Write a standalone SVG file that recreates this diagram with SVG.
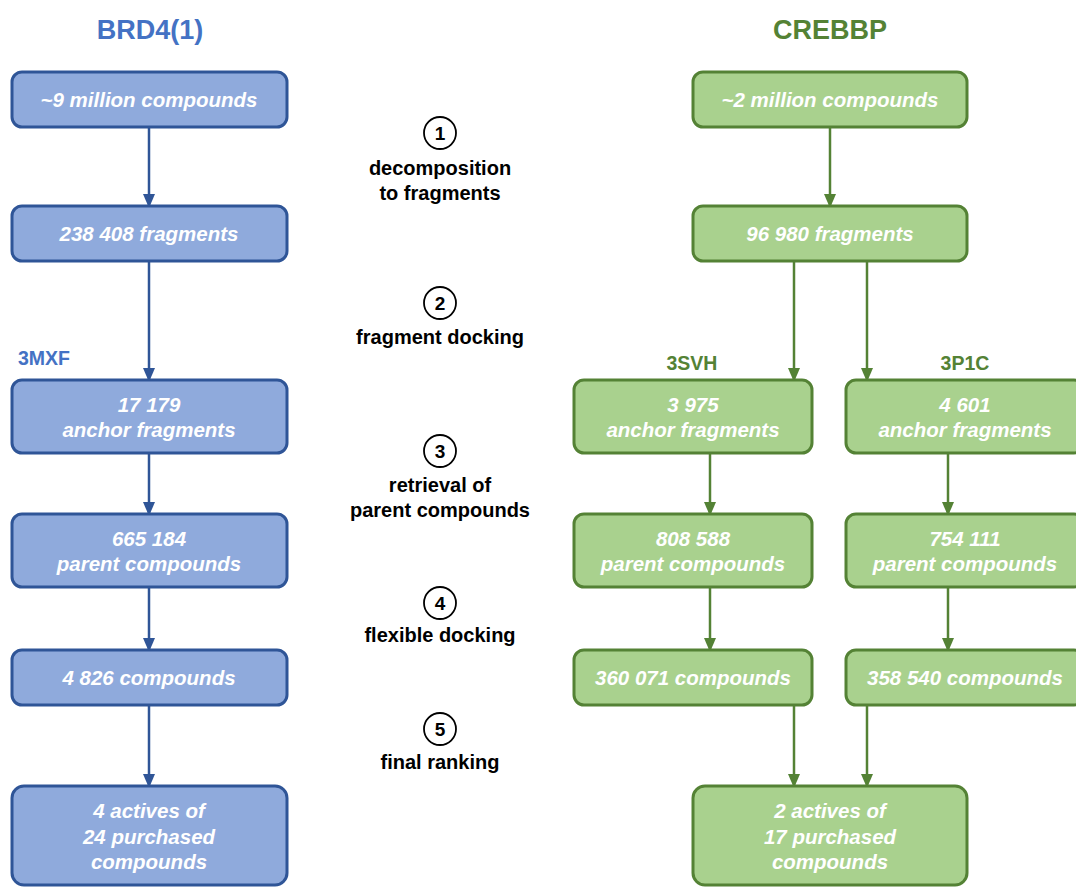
<svg xmlns="http://www.w3.org/2000/svg" width="1076" height="887" viewBox="0 0 1076 887">
<style>
.bb{fill:#8FAADC;stroke:#2F5597;stroke-width:3}
.gb{fill:#A9D18E;stroke:#548235;stroke-width:3}
.bt{font-family:"Liberation Sans",Arial,sans-serif;font-weight:bold;font-style:italic;font-size:20.5px;fill:#fff;text-anchor:middle}
.st{font-family:"Liberation Sans",Arial,sans-serif;font-weight:bold;font-size:20px;fill:#000;text-anchor:middle}
.num{font-family:"Liberation Sans",Arial,sans-serif;font-weight:bold;font-size:19px;fill:#000;text-anchor:middle}
.lb{font-family:"Liberation Sans",Arial,sans-serif;font-weight:bold;font-size:19.5px}
.bl{stroke:#2F5597;stroke-width:2.5;fill:none;marker-end:url(#ab)}
.gl{stroke:#548235;stroke-width:2.5;fill:none;marker-end:url(#ag)}
.circ{fill:#fff;stroke:#000;stroke-width:1.8}
</style>
<defs>
<marker id="ab" viewBox="0 0 12 14" refX="12" refY="6" markerWidth="12" markerHeight="14" markerUnits="userSpaceOnUse" orient="auto"><path d="M0,0 L14,6 L0,12 Z" fill="#2F5597"/></marker>
<marker id="ag" viewBox="0 0 12 14" refX="12" refY="6" markerWidth="12" markerHeight="14" markerUnits="userSpaceOnUse" orient="auto"><path d="M0,0 L14,6 L0,12 Z" fill="#548235"/></marker>
</defs>
<text x="150" y="39" style="font-family:'Liberation Sans',Arial,sans-serif;font-weight:bold;font-size:27px;fill:#4472C4;text-anchor:middle">BRD4(1)</text>
<text x="830" y="39" style="font-family:'Liberation Sans',Arial,sans-serif;font-weight:bold;font-size:27px;fill:#548235;text-anchor:middle">CREBBP</text>
<text class="lb" x="18" y="365" fill="#4472C4">3MXF</text>
<text class="lb" x="692" y="370" fill="#548235" text-anchor="middle">3SVH</text>
<text class="lb" x="965" y="370" fill="#548235" text-anchor="middle">3P1C</text>
<g id="connectors">
<path class="bl" d="M149,127 V206"/>
<path class="bl" d="M149,261 V380"/>
<path class="bl" d="M149,453 V514"/>
<path class="bl" d="M149,587 V650"/>
<path class="bl" d="M149,705 V786"/>
<path class="gl" d="M830,127 V206"/>
<path class="gl" d="M794,261 V380"/>
<path class="gl" d="M867,261 V380"/>
<path class="gl" d="M710,453 V514"/>
<path class="gl" d="M710,587 V650"/>
<path class="gl" d="M948,453 V514"/>
<path class="gl" d="M948,587 V650"/>
<path class="gl" d="M794,705 V786"/>
<path class="gl" d="M867,705 V786"/>
</g>
<g id="b1"><rect class="bb" x="12" y="72" width="275" height="55" rx="10"/><text class="bt" x="149" y="107">~9 million compounds</text></g>
<g id="b2"><rect class="bb" x="12" y="206" width="275" height="55" rx="10"/><text class="bt" x="149" y="241">238 408 fragments</text></g>
<g id="b3"><rect class="bb" x="12" y="380" width="275" height="73" rx="10"/><text class="bt" x="149" y="412">17 179</text><text class="bt" x="149" y="437">anchor fragments</text></g>
<g id="b4"><rect class="bb" x="12" y="514" width="275" height="73" rx="10"/><text class="bt" x="149" y="546">665 184</text><text class="bt" x="149" y="571">parent compounds</text></g>
<g id="b5"><rect class="bb" x="12" y="650" width="275" height="55" rx="10"/><text class="bt" x="149" y="685">4 826 compounds</text></g>
<g id="b6"><rect class="bb" x="12" y="786" width="275" height="99" rx="12"/><text class="bt" x="149" y="818">4 actives of</text><text class="bt" x="149" y="844">24 purchased</text><text class="bt" x="149" y="869">compounds</text></g>
<g id="g1"><rect class="gb" x="693" y="72" width="274" height="55" rx="10"/><text class="bt" x="830" y="107">~2 million compounds</text></g>
<g id="g2"><rect class="gb" x="693" y="206" width="274" height="55" rx="10"/><text class="bt" x="830" y="241">96 980 fragments</text></g>
<g id="g3a"><rect class="gb" x="574" y="380" width="238" height="73" rx="10"/><text class="bt" x="693" y="412">3 975</text><text class="bt" x="693" y="437">anchor fragments</text></g>
<g id="g3b"><rect class="gb" x="846" y="380" width="238" height="73" rx="10"/><text class="bt" x="965" y="412">4 601</text><text class="bt" x="965" y="437">anchor fragments</text></g>
<g id="g4a"><rect class="gb" x="574" y="514" width="238" height="73" rx="10"/><text class="bt" x="693" y="546">808 588</text><text class="bt" x="693" y="571">parent compounds</text></g>
<g id="g4b"><rect class="gb" x="846" y="514" width="238" height="73" rx="10"/><text class="bt" x="965" y="546">754 111</text><text class="bt" x="965" y="571">parent compounds</text></g>
<g id="g5a"><rect class="gb" x="574" y="650" width="238" height="55" rx="10"/><text class="bt" x="693" y="685">360 071 compounds</text></g>
<g id="g5b"><rect class="gb" x="846" y="650" width="238" height="55" rx="10"/><text class="bt" x="965" y="685">358 540 compounds</text></g>
<g id="g6"><rect class="gb" x="693" y="786" width="274" height="99" rx="12"/><text class="bt" x="830" y="818">2 actives of</text><text class="bt" x="830" y="844">17 purchased</text><text class="bt" x="830" y="869">compounds</text></g>
<g id="s1"><circle class="circ" cx="440" cy="133" r="16"/><text class="num" x="440" y="140">1</text><text class="st" x="440" y="175">decomposition</text><text class="st" x="440" y="200">to fragments</text></g>
<g id="s2"><circle class="circ" cx="440" cy="303" r="16"/><text class="num" x="440" y="310">2</text><text class="st" x="440" y="344">fragment docking</text></g>
<g id="s3"><circle class="circ" cx="440" cy="451" r="16"/><text class="num" x="440" y="458">3</text><text class="st" x="440" y="492">retrieval of</text><text class="st" x="440" y="517">parent compounds</text></g>
<g id="s4"><circle class="circ" cx="440" cy="603" r="16"/><text class="num" x="440" y="610">4</text><text class="st" x="440" y="642">flexible docking</text></g>
<g id="s5"><circle class="circ" cx="440" cy="729" r="16"/><text class="num" x="440" y="736">5</text><text class="st" x="440" y="769">final ranking</text></g>
</svg>
